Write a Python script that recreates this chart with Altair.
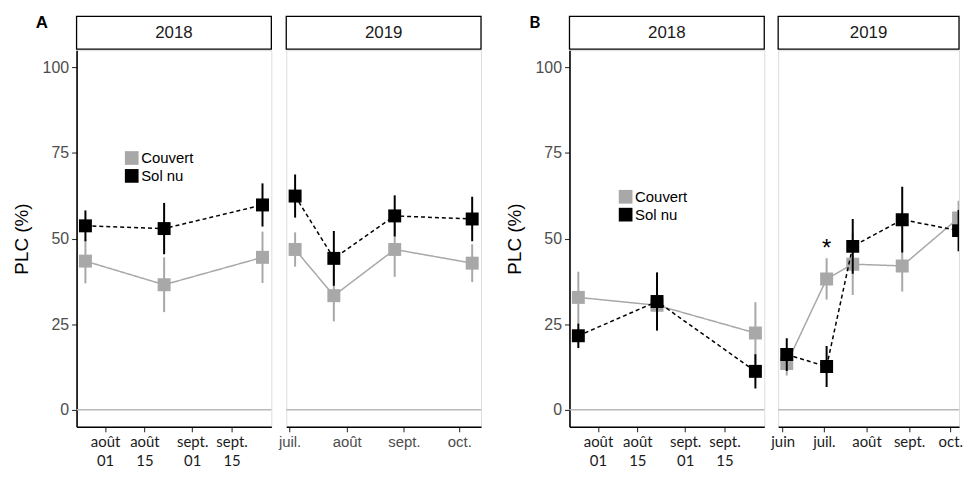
import altair as alt
import pandas as pd

# ---------------- data ----------------
TRT = ["Couvert", "Sol nu"]
COLORS = ["#a8a8a8", "#000000"]

dates_2018 = ["2018-07-25", "2018-08-22", "2018-09-26"]
a18_couvert = [43.4, 36.5, 44.5]
a18_couvert_se = [6.5, 8.0, 7.5]
a18_solnu = [53.7, 52.9, 59.8]
a18_solnu_se = [4.5, 7.5, 6.3]

dates_a2019 = ["2019-07-04", "2019-07-25", "2019-08-27", "2019-10-08"]
a19_couvert = [46.8, 33.3, 46.8, 42.8]
a19_couvert_se = [5.0, 7.5, 8.0, 5.5]
a19_solnu = [62.4, 44.2, 56.6, 55.7]
a19_solnu_se = [6.3, 8.0, 6.0, 6.5]

b18_couvert = [32.8, 30.5, 22.4]
b18_couvert_se = [7.5, 7.0, 9.0]
b18_solnu = [21.6, 31.6, 11.2]
b18_solnu_se = [3.6, 8.5, 5.0]

dates_b2019 = ["2019-06-04", "2019-07-03", "2019-07-22", "2019-08-27", "2019-10-07"]
b19_couvert = [13.5, 38.2, 42.5, 42.0, 56.0]
b19_couvert_se = [3.5, 6.0, 9.0, 7.5, 5.0]
b19_solnu = [16.1, 12.6, 47.7, 55.5, 52.3]
b19_solnu_se = [4.8, 6.0, 8.0, 9.6, 6.0]
b19_visible_end = "2019-10-07T08:00"   # the original figure is cut at the right edge

star_dates = ["2019-07-03"]
star_y = [47.0]
star_text = ["*"]

x_ticks_2018 = ["2018-08-01", "2018-08-15", "2018-09-01", "2018-09-15"]
x_ticks_a2019 = ["2019-07-01", "2019-08-01", "2019-09-01", "2019-10-01"]
x_ticks_b2019 = ["2019-06-01", "2019-07-01", "2019-08-01", "2019-09-01", "2019-10-01"]
y_ticks = [0, 25, 50, 75, 100]
mois = ["janv.", "févr.", "mars", "avr.", "mai", "juin", "juil.", "août",
        "sept.", "oct.", "nov.", "déc."]

# ---------------- helpers ----------------
W, H = 196, 379
ARIAL = "Liberation Sans"
CAL = "Lato"
cscale = alt.Scale(domain=TRT, range=COLORS)
yscale = alt.Scale(domain=[-5, 105], nice=False, zero=False)


def make_df(dates, couv, couv_se, sol, sol_se):
    rows = []
    for d, v, e in zip(dates, couv, couv_se):
        rows.append({"date": pd.Timestamp(d), "trt": "Couvert", "plc": v, "lo": v - e, "hi": v + e})
    for d, v, e in zip(dates, sol, sol_se):
        rows.append({"date": pd.Timestamp(d), "trt": "Sol nu", "plc": v, "lo": v - e, "hi": v + e})
    return pd.DataFrame(rows)


def dt(ts):
    ts = pd.Timestamp(ts)
    return alt.DateTime(year=ts.year, month=ts.month, date=ts.day,
                        hours=ts.hour, minutes=ts.minute)


month_arr = "[" + ",".join("'" + m + "'" for m in mois) + "]"


def panel(df, ticks, two_line, lab_font, lab_color, show_y, strip_text, width=W,
          letter=None, letter_font=ARIAL, legend_xy=None, star=None, xend=None, clip=False):
    ds = df["date"]
    span = ds.max() - ds.min()
    end = pd.Timestamp(xend) if xend is not None else ds.max() + 0.05 * span
    xdom = [dt(ds.min() - 0.05 * span), dt(end)]
    if two_line:
        expr = "[" + month_arr + "[month(datum.value)], (date(datum.value) < 10 ? '0' : '') + date(datum.value)]"
    else:
        expr = month_arr + "[month(datum.value)]"
    xaxis = alt.Axis(values=[dt(t) for t in ticks], labelExpr=expr, title=None,
                     labelFont=lab_font, labelColor=lab_color, labelFontSize=15,
                     labelLineHeight=19, labelPadding=3, tickSize=5, tickColor="#333333",
                     tickWidth=1.1, domainColor="black", domainWidth=1.6, grid=False,
                     labelBaseline="top", labelFlush=False)
    x = alt.X("date:T", scale=alt.Scale(domain=xdom, nice=False), axis=xaxis)
    if show_y:
        yaxis = alt.Axis(values=y_ticks, title="PLC (%)", labelFont=ARIAL, labelFontSize=16,
                         labelColor="#4d4d4d", labelPadding=3, tickSize=5, tickColor="#333333",
                         tickWidth=1.1, domainColor="black", domainWidth=1.6, grid=False,
                         titleFont=ARIAL, titleFontSize=19, titleFontWeight="normal",
                         titleColor="black", titlePadding=11)
    else:
        yaxis = None
    y = alt.Y("plc:Q", scale=yscale, axis=yaxis)
    if legend_xy is not None:
        leg = alt.Legend(orient="none", legendX=legend_xy[0], legendY=legend_xy[1],
                         title=None, symbolType="square", symbolSize=190,
                         symbolStrokeWidth=0, symbolOpacity=1, labelFontSize=15,
                         labelFont=ARIAL, labelColor="black", padding=0,
                         rowPadding=2, labelOffset=2)
    else:
        leg = None
    color = alt.Color("trt:N", scale=cscale, legend=leg)
    base = alt.Chart(df)
    one = pd.DataFrame({"k": [0]})

    layers = []
    layers.append(alt.Chart(one).mark_rule(color="#b8b8b8", strokeWidth=1.4).encode(
        y=alt.YDatum(0, scale=yscale, axis=yaxis)))
    for t, dash in [("Couvert", [1, 0]), ("Sol nu", [4, 3])]:
        sub = base.transform_filter(alt.datum.trt == t)
        layers.append(sub.mark_rule(strokeWidth=2, clip=clip).encode(
            x=x, y=alt.Y("lo:Q", scale=yscale, axis=yaxis), y2="hi:Q", color=color))
        layers.append(sub.mark_line(strokeWidth=1.5, strokeDash=dash, clip=clip).encode(
            x=x, y=y, color=color))
        layers.append(sub.mark_square(size=170, opacity=1, filled=True, clip=clip).encode(
            x=x, y=y, color=color))
    if star is not None:
        sdf = pd.DataFrame({"date": pd.to_datetime(star[0]), "plc": star[1], "txt": star[2]})
        layers.append(alt.Chart(sdf).mark_text(fontSize=24, font=ARIAL, color="black",
                                               baseline="middle").encode(
            x=x, y=y, text="txt:N"))
    layers.append(alt.Chart(one).mark_rect(fill="white", stroke="black", strokeWidth=1.3).encode(
        x=alt.value(0), x2=alt.value(width), y=alt.value(-34), y2=alt.value(-1)))
    layers.append(alt.Chart(one).mark_text(fontSize=17, font=ARIAL, color="#1a1a1a",
                                           baseline="middle").encode(
        x=alt.value(width / 2), y=alt.value(-17), text=alt.value(strip_text)))
    if letter is not None:
        layers.append(alt.Chart(one).mark_text(fontSize=17, font=letter_font, fontWeight="bold",
                                               color="black", baseline="middle").encode(
            x=alt.value(-35), y=alt.value(-27), text=alt.value(letter)))
    return alt.layer(*layers).properties(width=width, height=H)


dfA18 = make_df(dates_2018, a18_couvert, a18_couvert_se, a18_solnu, a18_solnu_se)
dfA19 = make_df(dates_a2019, a19_couvert, a19_couvert_se, a19_solnu, a19_solnu_se)
dfB18 = make_df(dates_2018, b18_couvert, b18_couvert_se, b18_solnu, b18_solnu_se)
dfB19 = make_df(dates_b2019, b19_couvert, b19_couvert_se, b19_solnu, b19_solnu_se)

pA18 = panel(dfA18, x_ticks_2018, True, CAL, "#1a1a1a", True, "2018", letter="A",
             legend_xy=(48, 101))
pA19 = panel(dfA19, x_ticks_a2019, False, ARIAL, "#4d4d4d", False, "2019")
pB18 = panel(dfB18, x_ticks_2018, True, CAL, "#1a1a1a", True, "2018", letter="B",
             letter_font=CAL, legend_xy=(49, 140))
pB19 = panel(dfB19, x_ticks_b2019, False, CAL, "#1a1a1a", False, "2019", width=182,
             star=(star_dates, star_y, star_text), xend=b19_visible_end, clip=True)

secA = alt.hconcat(pA18, pA19, spacing=4).resolve_scale(color="independent")
secB = alt.hconcat(pB18, pB19, spacing=4).resolve_scale(color="independent")

chart = alt.hconcat(secA, secB, spacing=21).resolve_scale(color="independent").properties(
    padding={"left": 3, "top": 4, "right": 0, "bottom": 0}
).configure_view(stroke="#1a1a1a", strokeWidth=1.3).configure(background="white")

chart.save("out.html", embed_options={"renderer": "svg", "actions": False})
